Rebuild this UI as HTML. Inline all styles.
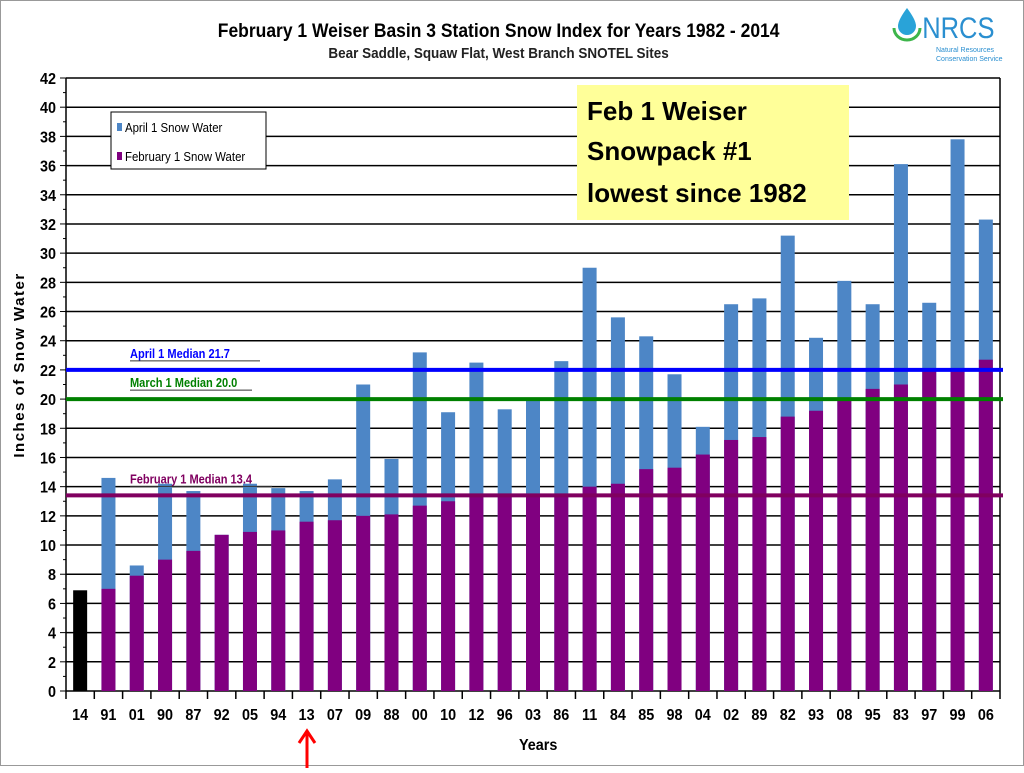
<!DOCTYPE html>
<html><head><meta charset="utf-8"><style>
body{margin:0;background:#fff;width:1024px;height:768px;overflow:hidden;font-family:"Liberation Sans",sans-serif}
</style></head><body>
<svg width="1024" height="768" xmlns="http://www.w3.org/2000/svg">
<rect x="0.5" y="0.5" width="1023" height="765" fill="#fff" stroke="#999"/>
<text x="499" y="37" text-anchor="middle" font-size="19" font-weight="bold" transform="scale(0.92,1) translate(43,0)">February 1 Weiser Basin 3 Station Snow Index for Years 1982 - 2014</text>
<text x="499" y="58" text-anchor="middle" font-size="15" font-weight="bold" fill="#222" transform="scale(0.9,1) translate(55,0)">Bear Saddle, Squaw Flat, West Branch SNOTEL Sites</text>
<g>
<path d="M907 8 Q898 20 898 26 A9 9 0 0 0 916 26 Q916 20 907 8Z" fill="#29a3d8"/>
<path d="M894 28 A13 12 0 0 0 920 28" fill="none" stroke="#3db54a" stroke-width="3"/>
<text x="922" y="38" font-size="30" fill="#2a8fd0" transform="scale(0.85,1) translate(163,0)">NRCS</text>
<text x="936" y="52" font-size="7" fill="#2a8fd0">Natural Resources</text>
<text x="936" y="61" font-size="7" fill="#2a8fd0">Conservation Service</text>
</g>
<g id="grid"></g>
<g id="bars"></g>
<g id="axes"></g>
<g>
<rect x="111" y="112" width="155" height="57" fill="#fff" stroke="#000"/>
<rect x="117" y="123" width="5" height="8" fill="#4d86c6"/>
<text x="125" y="132" font-size="13" transform="scale(0.88,1) translate(17,0)">April 1 Snow Water</text>
<rect x="117" y="152" width="5" height="8" fill="#800080"/>
<text x="125" y="161" font-size="13" transform="scale(0.88,1) translate(17,0)">February 1 Snow Water</text>
</g>
<g>
<rect x="577" y="85" width="272" height="135" fill="#ffff99"/>
<text x="587" y="120" font-size="26" font-weight="bold">Feb 1 Weiser</text>
<text x="587" y="160" font-size="26" font-weight="bold">Snowpack #1</text>
<text x="587" y="202" font-size="26" font-weight="bold">lowest since 1982</text>
</g>
<text transform="translate(24,365) rotate(-90)" text-anchor="middle" font-size="15" font-weight="bold" letter-spacing="1.5">Inches of Snow Water</text>
<text x="538" y="750" text-anchor="middle" font-size="16" font-weight="bold" transform="scale(0.9,1) translate(60,0)">Years</text>
<g>
<line x1="307" y1="768" x2="307" y2="734" stroke="#f00" stroke-width="3"/>
<path d="M299 743 L307 731 L315 743" fill="none" stroke="#f00" stroke-width="3"/>
</g>
</svg>
<script>
const categories=["14","91","01","90","87","92","05","94","13","07","09","88","00","10","12","96","03","86","11","84","85","98","04","02","89","82","93","08","95","83","97","99","06"];
const febValues=[6.9,7.0,7.9,9.0,9.6,10.7,10.9,11.0,11.6,11.7,12.0,12.1,12.7,13.0,13.4,13.4,13.4,13.4,14.0,14.2,15.2,15.3,16.2,17.2,17.4,18.8,19.2,19.9,20.7,21.0,22.0,22.1,22.7];
const aprValues=[null,14.6,8.6,14.2,13.7,10.7,14.2,13.9,13.7,14.5,21.0,15.9,23.2,19.1,22.5,19.3,20.0,22.6,29.0,25.6,24.3,21.7,18.1,26.5,26.9,31.2,24.2,28.1,26.5,36.1,26.6,37.8,32.3];
const yTicks=[0,2,4,6,8,10,12,14,16,18,20,22,24,26,28,30,32,34,36,38,40,42];
const medianValues=[21.7,20.0,13.4];
const medianLabels=["April 1 Median 21.7","March 1 Median 20.0","February 1 Median 13.4"];
const medianShown=[22.0,20.0,13.4];
const NS="http://www.w3.org/2000/svg";
const X0=66,X1=1000,Y0=691,Y1=78,YMAX=42;
const bw=(X1-X0)/categories.length;
const y=v=>Y0-(v/YMAX)*(Y0-Y1);
const xc=i=>X0+bw*(i+0.5);
function mk(p,t,a){const e=document.createElementNS(NS,t);for(const k in a)e.setAttribute(k,a[k]);p.appendChild(e);return e;}
const grid=document.getElementById('grid'),bars=document.getElementById('bars'),axes=document.getElementById('axes');
yTicks.forEach(v=>{
 const l=mk(grid,'line',{x1:X0,x2:X1,y1:y(v),y2:y(v),stroke:'#000','stroke-width':1.5});
 
 
 const t=mk(axes,'text',{x:X0-10,y:y(v)+6,'text-anchor':'end','font-size':16,'font-weight':'bold',transform:`translate(${(X0-10)*0.1},0) scale(0.9,1)`});
 t.textContent=v;
 
 
 mk(axes,'line',{x1:X0-6,x2:X0,y1:y(v),y2:y(v),stroke:'#000'});
 if(v<YMAX)mk(axes,'line',{x1:X0-3,x2:X0,y1:y(v+1),y2:y(v+1),stroke:'#000'});
});
mk(axes,'line',{x1:X0,x2:X0,y1:Y1,y2:Y0,stroke:'#000','stroke-width':1.5});
mk(axes,'line',{x1:X1,x2:X1,y1:Y1,y2:Y0,stroke:'#000','stroke-width':1.5});
categories.forEach((c,i)=>{
 const cx=xc(i);
 if(aprValues[i]!==null){
  const r=mk(bars,'rect',{x:cx-7,width:14,y:y(aprValues[i]),height:y(0)-y(aprValues[i]),fill:'#4d86c6'});
  
  
 }
 const f=mk(bars,'rect',{x:cx-7,width:14,y:y(febValues[i]),height:y(0)-y(febValues[i]),fill:i===0?'#000':'#800080'});
 
 
 mk(axes,'line',{x1:X0+bw*i,x2:X0+bw*i,y1:Y0,y2:Y0+8,stroke:'#000','stroke-width':1.5});
 const t=mk(axes,'text',{x:cx/0.9,y:720,'text-anchor':'middle','font-size':16,'font-weight':'bold',transform:'scale(0.9,1)'});
 t.textContent=c;
 
 
});
mk(axes,'line',{x1:X1,x2:X1,y1:Y0,y2:Y0+8,stroke:'#000','stroke-width':1.5});
const colors=['#0000ff','#008000','#800060'];
medianShown.forEach((v,i)=>{
 const l=mk(axes,'line',{x1:X0,x2:X1+3,y1:y(v),y2:y(v),stroke:colors[i],'stroke-width':4});
 
 
 const t=mk(axes,'text',{x:130/0.85,y:y(v)-12,'font-size':13,'font-weight':'bold',fill:colors[i],transform:'scale(0.85,1)'});
 t.textContent=medianLabels[i];
 
 
 const bb={x:130,w:i==2?142:(i==0?130:122)};
 mk(axes,'line',{x1:bb.x,x2:bb.x+bb.w,y1:y(v)-9,y2:y(v)-9,stroke:'#333','stroke-width':1});
});
</script>
</body></html>
